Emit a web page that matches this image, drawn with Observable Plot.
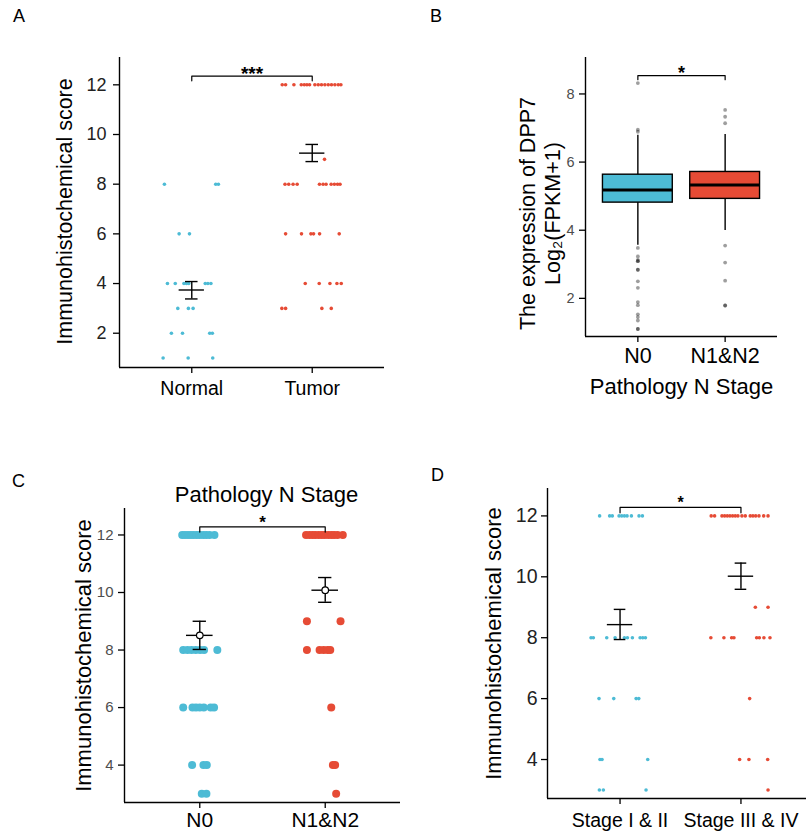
<!DOCTYPE html>
<html>
<head>
<meta charset="utf-8">
<script src="https://cdn.jsdelivr.net/npm/d3@7"></script>
<script src="https://cdn.jsdelivr.net/npm/@observablehq/plot@0.6"></script>
<style>
html, body { margin: 0; padding: 0; background: #fff; }
#root { position: relative; width: 806px; height: 839px; overflow: hidden; background: #fff;
  font-family: "Liberation Sans", Arial, Helvetica, sans-serif; }
.wrap { position: absolute; }
.plabel { position: absolute; font-size: 18px; line-height: 1; color: #000; }
</style>
</head>
<body>
<div id="root"></div>
<script>
// ---------------- DATA ----------------
// Panel A
const A_categories = ["Normal", "Tumor"];
const A_yTicks = [2, 4, 6, 8, 10, 12];
const A_normal_scores = [8, 8, 8, 6, 6, 4, 4, 4, 4, 4, 4, 4, 4, 3, 3, 3, 2, 2, 2, 2, 1, 1, 1];
const A_normal_jitter = [-0.227, 0.199, 0.221, -0.105, -0.019, -0.202, -0.137, -0.065, -0.044, -0.025, 0.112, 0.134, 0.159,
  -0.116, -0.028, 0.011, -0.169, -0.077, 0.149, 0.171, -0.238, -0.030, 0.174];
const A_tumor_scores = [12, 12, 12, 12, 12, 12, 12, 12, 12, 12, 12, 12, 12, 12, 12, 12, 9,
  8, 8, 8, 8, 8, 8, 8, 8, 8, 8, 8, 6, 6, 6, 6, 6, 6, 4, 4, 4, 4, 4, 3, 3, 3, 3];
const A_tumor_jitter = [-0.249, -0.221, -0.152, -0.091, -0.066, -0.044, -0.022, 0.022, 0.050, 0.077, 0.105, 0.133, 0.160, 0.188, 0.216, 0.238,
  0.102,
  -0.226, -0.195, -0.159, -0.125, 0.060, 0.090, 0.115, 0.157, 0.184, 0.210, 0.231,
  -0.221, -0.089, -0.011, 0.011, 0.061, 0.224,
  -0.058, 0.058, 0.147, 0.205, 0.241,
  -0.252, -0.221, 0.080, 0.158];
const A_mean = [3.74, 9.25];
const A_errLow = [3.38, 8.91];
const A_errHigh = [4.08, 9.60];
const A_sigLabel = "***";
const A_sigY = 12.35;
const A_sigTick = 12.16;

// Panel B
const B_categories = ["N0", "N1&N2"];
const B_yTicks = [2, 4, 6, 8];
const B_q1 = [4.81, 4.92];
const B_median = [5.18, 5.33];
const B_q3 = [5.63, 5.71];
const B_whiskerLow = [3.56, 3.99];
const B_whiskerHigh = [6.79, 6.81];
const B_n0_outliers = [8.32, 6.95, 6.89, 3.48, 3.23, 3.13, 3.09, 3.09, 2.84, 2.84, 2.50, 2.31, 1.89, 1.80, 1.53, 1.45, 1.35, 1.10, 1.10];
const B_n12_outliers = [7.53, 7.33, 7.14, 3.55, 3.05, 2.52, 1.79, 1.79];
const B_yTitle1 = "The expression of DPP7";
const B_yTitle2 = "Log\u2082(FPKM+1)";
const B_xTitle = "Pathology N Stage";
const B_sigLabel = "*";
const B_sigY = 8.54;
const B_sigTick = 8.42;

// Panel C
const C_categories = ["N0", "N1&N2"];
const C_yTicks = [4, 6, 8, 10, 12];
const C_title = "Pathology N Stage";
const C_n0_scores = [12, 12, 12, 12, 12, 12, 12, 12, 12, 12, 12, 8, 8, 8, 8, 8, 8, 8, 6, 6, 6, 6, 6, 6, 6, 4, 4, 4, 3, 3];
const C_n0_jitter = [-0.140, -0.118, -0.094, -0.071, -0.049, -0.024, 0.000, 0.027, 0.051, 0.078, 0.117,
  -0.132, -0.098, -0.066, -0.032, 0.003, 0.034, 0.140,
  -0.132, -0.058, -0.030, 0.000, 0.032, 0.087, 0.114,
  -0.061, 0.029, 0.056,
  0.016, 0.053];
const C_n12_scores = [12, 12, 12, 12, 12, 12, 12, 12, 12, 12, 12, 12, 9, 9, 8, 8, 8, 8, 8, 6, 4, 4, 3];
const C_n12_jitter = [-0.153, -0.126, -0.101, -0.079, -0.052, -0.027, -0.004, 0.024, 0.049, 0.071, 0.098, 0.140,
  -0.146, 0.122,
  -0.146, -0.045, -0.013, 0.019, 0.040,
  0.048,
  0.061, 0.079,
  0.087];
const C_mean = [8.51, 10.08];
const C_errLow = [8.02, 9.66];
const C_errHigh = [9.00, 10.52];
const C_sigLabel = "*";
const C_sigY = 12.28;
const C_sigTick = 12.10;

// Panel D
const D_categories = ["Stage I & II", "Stage III & IV"];
const D_yTicks = [4, 6, 8, 10, 12];
const D_early_scores = [12, 12, 12, 12, 12, 12, 12, 12, 12, 12, 8, 8, 8, 8, 8, 8, 8, 8, 8, 8, 6, 6, 6, 6, 4, 4, 4, 3, 3, 3];
const D_early_jitter = [-0.169, -0.086, -0.064, -0.008, 0.014, 0.036, 0.058, 0.094, 0.157, 0.185,
  -0.240, -0.221, -0.110, -0.041, 0.036, 0.061, 0.102, 0.166, 0.188, 0.210,
  -0.174, -0.052, 0.133, 0.155,
  -0.166, -0.149, 0.229,
  -0.171, -0.138, 0.215];
const D_late_scores = [12, 12, 12, 12, 12, 12, 12, 12, 12, 12, 12, 12, 12, 12, 12, 12, 12,
  9, 9, 8, 8, 8, 8, 8, 8, 8, 8, 6, 4, 4, 4, 3];
const D_late_jitter = [-0.246, -0.218, -0.157, -0.135, -0.113, -0.091, -0.069, -0.047, -0.025, 0.008, 0.036, 0.077, 0.099, 0.122, 0.149, 0.188, 0.224,
  0.119, 0.224,
  -0.249, -0.141, -0.077, -0.058, 0.130, 0.152, 0.190, 0.240,
  0.072,
  -0.011, 0.066, 0.221,
  0.224];
const D_mean = [8.43, 10.02];
const D_errLow = [7.94, 9.59];
const D_errHigh = [8.93, 10.45];
const D_sigLabel = "*";
const D_sigY = 12.28;
const D_sigTick = 12.10;

const Y_TITLE = "Immunohistochemical score";
const COLORS = ["#4DBBD5", "#E64B35"];

// ---------------- HELPERS ----------------
const FONT = '"Liberation Sans", Arial, Helvetica, sans-serif';
const IDX = [0, 1];

function axisLines(yd) {
  return [
    Plot.ruleY([yd[0]], {y: d => d, x1: () => 0.4, x2: () => 2.6, stroke: "#000", strokeWidth: 1.4}),
    Plot.ruleX([0.4], {x: d => d, y1: () => yd[0], y2: () => yd[1], stroke: "#000", strokeWidth: 1.4})
  ];
}
function table(scores, jitter, group) {
  return scores.map((v, i) => ({x: group + jitter[i], y: v}));
}
function errorBars(mean, low, high, half, cap) {
  return [
    Plot.ruleX(IDX, {x: i => i + 1, y1: i => low[i], y2: i => high[i], stroke: "#000", strokeWidth: 1.4}),
    Plot.ruleY(IDX, {y: i => mean[i], x1: i => i + 1 - half, x2: i => i + 1 + half, stroke: "#000", strokeWidth: 1.4}),
    Plot.ruleY(IDX, {y: i => high[i], x1: i => i + 1 - cap, x2: i => i + 1 + cap, stroke: "#000", strokeWidth: 1.4}),
    Plot.ruleY(IDX, {y: i => low[i], x1: i => i + 1 - cap, x2: i => i + 1 + cap, stroke: "#000", strokeWidth: 1.4})
  ];
}
function bracket(y, tick, label, fontSize, dy) {
  const pts = [[1, tick], [1, y], [2, y], [2, tick]];
  return [
    Plot.line(pts, {x: d => d[0], y: d => d[1], stroke: "#000", strokeWidth: 1.2}),
    Plot.text([label], {x: () => 1.5, y: () => y, text: d => d, fontSize, fontWeight: "bold", dy, fill: "#000"})
  ];
}
function yTitle(text, dx, dy, fontSize) {
  return Plot.text([text], {frameAnchor: "left", textAnchor: "middle", lineAnchor: "middle", rotate: -90,
    dx, dy, fontSize, text: d => d, fill: "#000"});
}
function place(el, left, top, width) {
  const w = document.createElement("div");
  w.className = "wrap";
  w.style.left = left + "px";
  w.style.top = top + "px";
  w.style.width = width + "px";
  el.style.maxWidth = "none";
  w.appendChild(el);
  document.getElementById("root").appendChild(w);
}
function label(text, left, top) {
  const d = document.createElement("div");
  d.className = "plabel";
  d.textContent = text;
  d.style.left = left + "px";
  d.style.top = top + "px";
  document.getElementById("root").appendChild(d);
}
const baseStyle = {fontFamily: FONT, fontSize: "12px", background: "transparent", overflow: "visible"};

// ---------------- PANEL A ----------------
const A_yd = [0.62, 13.1];
place(Plot.plot({
  width: 403, height: 420,
  marginLeft: 119, marginRight: 19, marginTop: 57, marginBottom: 53,
  x: {domain: [0.4, 2.6]}, y: {domain: A_yd},
  style: baseStyle,
  marks: [
    Plot.axisY(A_yTicks, {tickSize: 6, tickPadding: 7, fontSize: 18, fill: "#222", stroke: "#000", strokeWidth: 1.3, label: null}),
    Plot.axisX([1, 2], {tickFormat: d => A_categories[d - 1], tickSize: 6, tickPadding: 8, fontSize: 19.5, fill: "#000", stroke: "#000", strokeWidth: 1.3, label: null}),
    ...axisLines(A_yd),
    Plot.dot(table(A_normal_scores, A_normal_jitter, 1), {x: "x", y: "y", r: 1.8, fill: COLORS[0]}),
    Plot.dot(table(A_tumor_scores, A_tumor_jitter, 2), {x: "x", y: "y", r: 1.8, fill: COLORS[1]}),
    ...errorBars(A_mean, A_errLow, A_errHigh, 0.105, 0.052),
    ...bracket(A_sigY, A_sigTick, A_sigLabel, 19, -2),
    yTitle(Y_TITLE, -54, -1, 21.5)
  ]
}), 0, 0, 403);

// ---------------- PANEL B ----------------
const B_yd = [0.88, 9.07];
place(Plot.plot({
  width: 403, height: 420,
  marginLeft: 182, marginRight: 29, marginTop: 57, marginBottom: 84,
  x: {domain: [0.4, 2.6]}, y: {domain: B_yd},
  style: baseStyle,
  marks: [
    Plot.axisY(B_yTicks, {tickSize: 6, tickPadding: 5, fontSize: 14.5, fill: "#4d4d4d", stroke: "#000", strokeWidth: 1.3, label: null}),
    Plot.axisX([1, 2], {tickFormat: d => B_categories[d - 1], tickSize: 6, tickPadding: 5.5, fontSize: 21.5, fill: "#000", stroke: "#000", strokeWidth: 1.3, label: null}),
    ...axisLines(B_yd),
    Plot.ruleX(IDX, {x: i => i + 1, y1: i => B_q3[i], y2: i => B_whiskerHigh[i], stroke: "#000", strokeWidth: 1.4}),
    Plot.ruleX(IDX, {x: i => i + 1, y1: i => B_whiskerLow[i], y2: i => B_q1[i], stroke: "#000", strokeWidth: 1.4}),
    Plot.rect(IDX, {x1: i => i + 1 - 0.4, x2: i => i + 1 + 0.4, y1: i => B_q1[i], y2: i => B_q3[i],
      fill: i => COLORS[i], stroke: "#000", strokeWidth: 1.4}),
    Plot.ruleY(IDX, {y: i => B_median[i], x1: i => i + 1 - 0.4, x2: i => i + 1 + 0.4, stroke: "#000", strokeWidth: 3}),
    Plot.dot(B_n0_outliers, {x: () => 1, y: d => d, r: 1.9, fill: "#000", fillOpacity: 0.38}),
    Plot.dot(B_n12_outliers, {x: () => 2, y: d => d, r: 1.9, fill: "#000", fillOpacity: 0.38}),
    ...bracket(B_sigY, B_sigTick, B_sigLabel, 18, -2.5),
    yTitle(B_yTitle1, -57, 16.5, 21.5),
    yTitle(B_yTitle2, -32, 16.5, 21.5),
    Plot.text([B_xTitle], {frameAnchor: "bottom", textAnchor: "middle", lineAnchor: "bottom", dy: 57, fontSize: 22, text: d => d, fill: "#000"})
  ],
  color: {type: "identity"}
}), 403, 0, 403);

// ---------------- PANEL C ----------------
const C_yd = [2.70, 12.92];
place(Plot.plot({
  width: 403, height: 419,
  marginLeft: 124, marginRight: 3, marginTop: 88, marginBottom: 37,
  x: {domain: [0.4, 2.6]}, y: {domain: C_yd},
  style: baseStyle,
  marks: [
    Plot.axisY(C_yTicks, {tickSize: 6, tickPadding: 5, fontSize: 15, fill: "#4d4d4d", stroke: "#000", strokeWidth: 1.3, label: null}),
    Plot.axisX([1, 2], {tickFormat: d => C_categories[d - 1], tickSize: 6, tickPadding: 4, fontSize: 21, fill: "#000", stroke: "#000", strokeWidth: 1.3, label: null}),
    ...axisLines(C_yd),
    Plot.dot(table(C_n0_scores, C_n0_jitter, 1), {x: "x", y: "y", r: 4, fill: COLORS[0]}),
    Plot.dot(table(C_n12_scores, C_n12_jitter, 2), {x: "x", y: "y", r: 4, fill: COLORS[1]}),
    ...errorBars(C_mean, C_errLow, C_errHigh, 0.106, 0.053),
    Plot.dot(IDX, {x: i => i + 1, y: i => C_mean[i], r: 3.3, fill: "#fff", stroke: "#000", strokeWidth: 1.2}),
    ...bracket(C_sigY, C_sigTick, C_sigLabel, 17, -4),
    Plot.text([C_title], {frameAnchor: "top", textAnchor: "middle", lineAnchor: "bottom", dx: 4, dy: -6.6, fontSize: 22, text: d => d, fill: "#000"}),
    yTitle(Y_TITLE, -41, 0, 22)
  ]
}), 0, 420, 403);

// ---------------- PANEL D ----------------
const D_yd = [2.72, 12.9];
place(Plot.plot({
  width: 410, height: 419,
  marginLeft: 144, marginRight: 0, marginTop: 68, marginBottom: 41,
  x: {domain: [0.4, 2.6]}, y: {domain: D_yd},
  style: baseStyle,
  marks: [
    Plot.axisY(D_yTicks, {tickSize: 6, tickPadding: 4, fontSize: 19.5, fill: "#222", stroke: "#000", strokeWidth: 1.3, label: null}),
    Plot.axisX([1, 2], {tickFormat: d => D_categories[d - 1], tickSize: 6, tickPadding: 9, fontSize: 19.5, fill: "#000", stroke: "#000", strokeWidth: 1.3, label: null}),
    ...axisLines(D_yd),
    Plot.dot(table(D_early_scores, D_early_jitter, 1), {x: "x", y: "y", r: 1.8, fill: COLORS[0]}),
    Plot.dot(table(D_late_scores, D_late_jitter, 2), {x: "x", y: "y", r: 1.8, fill: COLORS[1]}),
    ...errorBars(D_mean, D_errLow, D_errHigh, 0.105, 0.048),
    ...bracket(D_sigY, D_sigTick, D_sigLabel, 16, -5),
    yTitle(Y_TITLE, -53.6, 0, 22)
  ]
}), 403, 420, 410);

// ---------------- PANEL LABELS ----------------
label("A", 13, 7);
label("B", 430, 7);
label("C", 12, 472);
label("D", 431, 466);
</script>
</body>
</html>
